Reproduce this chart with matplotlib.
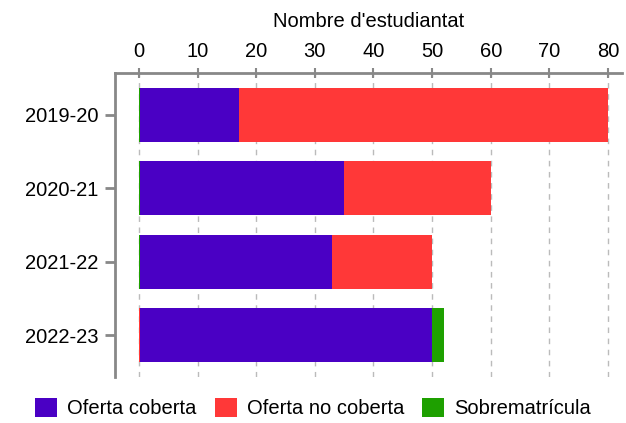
import matplotlib
matplotlib.use("Agg")
from matplotlib import pyplot as plt

cursos = ["2019-20", "2020-21", "2021-22", "2022-23"]
coberta = [17, 35, 33, 50]
no_coberta = [63, 25, 17, 0]
sobre = [0, 0, 0, 2]

series = ["Oferta coberta", "Oferta no coberta", "Sobrematrícula"]
colors = ["#4a00c4", "#ff3838", "#1ea000"]
xticks = [0, 10, 20, 30, 40, 50, 60, 70, 80]

plt.rcParams['font.family'] = ['Liberation Sans', 'DejaVu Sans']
grey = "#888888"

fig = plt.figure(figsize=(6.26, 4.23), dpi=100)
ax = fig.add_axes([115 / 626, 1 - 377 / 423, (622 - 115) / 626, (377 - 73) / 423])

y = list(range(len(cursos)))
h = 0.73

ax.barh(y, coberta, height=h, color=colors[0], label=series[0], zorder=3)
lefts = coberta
ax.barh(y, no_coberta, left=lefts, height=h, color=colors[1], label=series[1], zorder=3)
lefts = [a + b for a, b in zip(coberta, no_coberta)]
ax.barh(y, sobre, left=lefts, height=h, color=colors[2], label=series[2], zorder=3)

# zero-valued segments show up as a thin sliver at the origin
for i in y:
    if sobre[i] == 0:
        ax.barh(i, 0.22, left=0, height=h, color=colors[2], zorder=4)
    elif no_coberta[i] == 0:
        ax.barh(i, 0.22, left=0, height=h, color=colors[1], zorder=4)

ax.set_xlim(-4.1, 82.4)
ax.set_ylim(3.57, -0.57)
ax.set_xticks(xticks)
ax.set_yticks(y)
ax.set_yticklabels(cursos)
ax.xaxis.tick_top()
ax.xaxis.set_label_position("top")
ax.set_xlabel("Nombre d'estudiantat", fontsize=14.5, labelpad=11)
ax.tick_params(axis="x", direction="inout", length=7, width=1.5, color=grey,
               labelsize=14.5, pad=5)
ax.tick_params(axis="y", direction="out", length=7, width=2, color=grey,
               labelsize=14.5, pad=5)
ax.grid(axis="x", color="#bbbbbb", linestyle=(0, (4, 4)), linewidth=1, zorder=0)
ax.set_axisbelow(True)

for s in ["right", "bottom"]:
    ax.spines[s].set_visible(False)
for s in ["left", "top"]:
    ax.spines[s].set_color(grey)
    ax.spines[s].set_linewidth(2)

handles, labels = ax.get_legend_handles_labels()
fig.legend(handles, labels, loc="lower center", bbox_to_anchor=(0.5, -0.032), ncol=3,
           frameon=False, fontsize=14.5, handlelength=1.1, handleheight=1.1,
           handletextpad=0.5, columnspacing=0.9)

fig.savefig("out.png", dpi=100)
